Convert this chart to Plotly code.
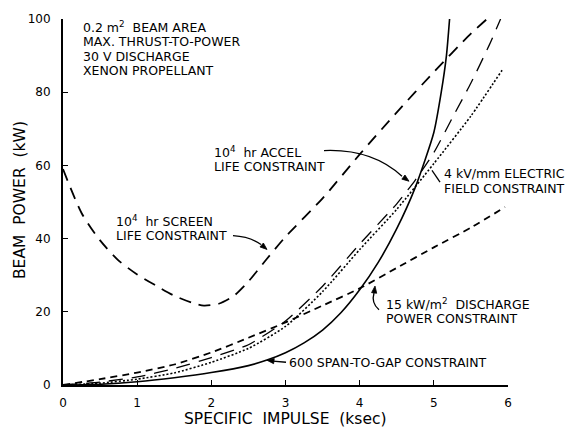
import math
import plotly.graph_objects as go

# ---- data ----
span_x = [0, 0.5, 1, 1.5, 2, 2.5, 2.75, 3, 3.25, 3.5, 3.75, 4, 4.25, 4.5, 4.75, 5, 5.1, 5.17, 5.22]
span_y = [0, 0.2, 0.9, 2.0, 3.4, 5.3, 6.8, 8.8, 11.5, 15, 19.8, 26, 33.5, 42.7, 54, 69, 80, 90, 102]

elec_x = [0, 0.5, 1, 1.5, 2, 2.5, 3, 3.5, 4, 4.5, 5, 5.5, 5.92]
elec_y = [0, 0.5, 1.6, 3.3, 6.2, 10, 16, 25.5, 37, 48, 60.5, 73.5, 86]

accel_x = [0, 0.5, 1, 1.5, 2, 2.5, 3, 3.5, 4, 4.5, 4.75, 5, 5.25, 5.5, 5.75, 5.9]
accel_y = [0, 0.8, 2.2, 4.5, 7.5, 11, 17.5, 27, 38.5, 49.5, 56, 63.5, 73, 82.5, 93, 100]

dis_x = [0, 0.5, 1, 1.5, 2, 2.5, 3, 3.5, 4, 4.5, 5, 5.5, 5.96]
dis_y = [0, 1.6, 3.4, 5.6, 8.9, 12.9, 17.1, 21.7, 26.4, 32, 37.6, 43, 48.6]

scr_x = [0, 0.25, 0.5, 0.75, 1, 1.25, 1.5, 1.75, 1.9, 2.1, 2.3, 2.5, 2.75, 3, 3.5, 4, 4.5, 5, 5.5, 5.8]
scr_y = [59, 47, 39.5, 34, 30.2, 27.2, 24.4, 22.4, 21.7, 22.2, 24.3, 28.3, 34.5, 40.5, 51, 63, 74.5, 85.5, 96, 101.5]

x_ticks = [0, 1, 2, 3, 4, 5, 6]
y_ticks = [0, 20, 40, 60, 80, 100]

FONT = "DejaVu Sans"

fig = go.Figure()
fig.add_trace(go.Scatter(x=scr_x, y=scr_y, mode="lines", hoverinfo="skip",
                         line=dict(color="black", width=1.8, dash="12px,8px", shape="spline", smoothing=0.7)))
fig.add_trace(go.Scatter(x=accel_x, y=accel_y, mode="lines", hoverinfo="skip",
                         line=dict(color="black", width=1.3, dash="14px,9px", shape="spline", smoothing=0.6)))
fig.add_trace(go.Scatter(x=elec_x, y=elec_y, mode="lines", hoverinfo="skip",
                         line=dict(color="black", width=1.6, dash="2px,2px", shape="spline", smoothing=0.6)))
fig.add_trace(go.Scatter(x=dis_x, y=dis_y, mode="lines", hoverinfo="skip",
                         line=dict(color="black", width=1.8, dash="7px,5px", shape="spline", smoothing=0.6)))
fig.add_trace(go.Scatter(x=span_x, y=span_y, mode="lines", hoverinfo="skip",
                         line=dict(color="black", width=1.6, shape="spline", smoothing=0.6)))

L, R, T, B = 63, 72, 15, 45
W, H = 580, 430
PW, PH = W - L - R, H - T - B


def P(px, py):
    return (px - L) / PW, (H - B - py) / PH


annotations = []
shapes = []


def text(px, py, s, size=12.5, anchor="left", angle=0):
    x, y = P(px, py)
    annotations.append(dict(x=x, y=y, xref="paper", yref="paper", text=s, showarrow=False,
                            xanchor=anchor, yanchor="middle", textangle=angle, borderpad=0,
                            font=dict(family=FONT, size=size, color="black")))


def head(hx, hy, tx, ty, ln=7.0, w=2.6):
    dx, dy = hx - tx, hy - ty
    d = math.hypot(dx, dy)
    ux, uy = dx / d, dy / d
    nx, ny = -uy, ux
    bx, by = hx - ux * ln, hy - uy * ln
    pts = [(hx, hy), (bx + nx * w, by + ny * w), (bx - nx * w, by - ny * w)]
    pp = [P(*p) for p in pts]
    path = "M {} {} L {} {} L {} {} Z".format(pp[0][0], pp[0][1], pp[1][0], pp[1][1], pp[2][0], pp[2][1])
    shapes.append(dict(type="path", xref="paper", yref="paper", path=path,
                       fillcolor="black", line=dict(color="black", width=0.8)))


def curve(p0, c, p1):
    x0, y0 = P(*p0)
    cx, cy = P(*c)
    x1, y1 = P(*p1)
    shapes.append(dict(type="path", xref="paper", yref="paper",
                       path=f"M {x0} {y0} Q {cx} {cy} {x1} {y1}",
                       line=dict(color="black", width=1.3)))


def seg(p0, p1):
    x0, y0 = P(*p0)
    x1, y1 = P(*p1)
    shapes.append(dict(type="line", xref="paper", yref="paper", x0=x0, y0=y0, x1=x1, y1=y1,
                       line=dict(color="black", width=1.3)))


text(82, 23, "0.2 m<sup>2</sup>  BEAM AREA")
text(82, 38, "MAX. THRUST-TO-POWER")
text(82, 53, "30 V DISCHARGE")
text(82, 67.5, "XENON PROPELLANT")

text(213, 149, "10<sup>4</sup>  hr ACCEL")
text(213, 164, "LIFE CONSTRAINT")
text(115, 219, "10<sup>4</sup>  hr SCREEN")
text(115, 234, "LIFE CONSTRAINT")
text(443, 171, "4 kV/mm ELECTRIC")
text(443, 186, "FIELD CONSTRAINT")
text(385, 303, "15 kW/m<sup>2</sup>  DISCHARGE")
text(385, 318, "POWER CONSTRAINT")
text(288, 362, "600 SPAN-TO-GAP CONSTRAINT")

text(285, 419, "SPECIFIC  IMPULSE  (ksec)", size=15.5, anchor="center")
text(20, 198, "BEAM  POWER  (kW)", size=15.5, anchor="center", angle=-90)

# leader lines and arrowheads
curve((324, 148), (372, 146), (402, 174))
head(409, 179, 401, 173)
curve((233, 234), (250, 235), (261, 243))
head(267, 248, 260, 242)
curve((379, 309), (371, 302), (374, 292))
head(375, 285, 374, 293)
seg((286, 362), (273, 360.8))
head(267, 360, 275, 361)
seg((432, 168), (440, 180))

fig.update_layout(
    width=W, height=H,
    margin=dict(l=L, r=R, t=T, b=B, pad=0),
    paper_bgcolor="white", plot_bgcolor="white",
    showlegend=False, hovermode=False,
    font=dict(family=FONT, size=12, color="black"),
    annotations=annotations,
    shapes=shapes,
    xaxis=dict(range=[0, 6], tickvals=x_ticks, ticktext=[str(v) for v in x_ticks],
               showgrid=False, zeroline=False, showline=True, linecolor="black", linewidth=2,
               ticks="inside", ticklen=5, tickwidth=1.3, tickcolor="black",
               tickfont=dict(family=FONT, size=12), ticklabelstandoff=6),
    yaxis=dict(range=[0, 100], tickvals=y_ticks, ticktext=[str(v) for v in y_ticks],
               showgrid=False, zeroline=False, showline=True, linecolor="black", linewidth=2,
               ticks="inside", ticklen=5, tickwidth=1.3, tickcolor="black",
               tickfont=dict(family=FONT, size=12), ticklabelstandoff=8),
)

fig.write_html("out.html", config={"displayModeBar": False, "staticPlot": True},
               post_script="document.body.style.margin='0px';")
